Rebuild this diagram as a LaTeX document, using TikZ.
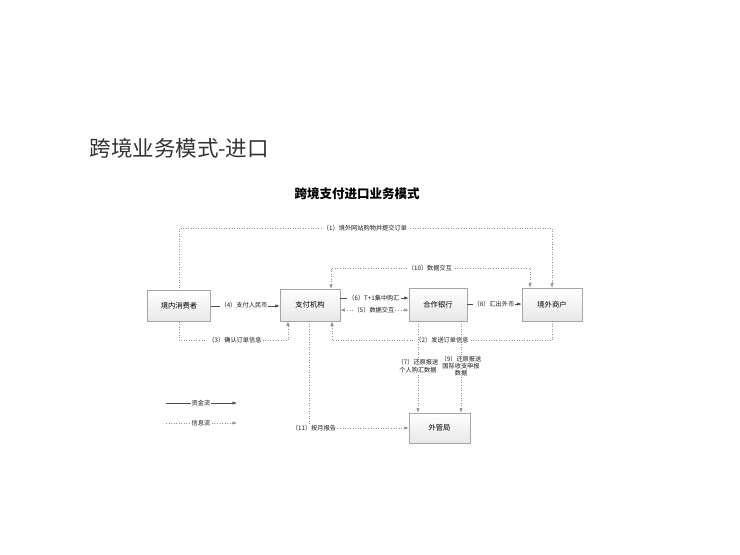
\documentclass[tikz,border=0pt]{standalone}
\usepackage{fontspec}
\setmainfont{Noto Sans CJK SC}
\usetikzlibrary{arrows.meta,shadows}
\begin{document}
\begin{tikzpicture}[x=1pt,y=-1pt,
  box/.style={draw=gray!70, line width=0.5pt, top color=white, bottom color=gray!18,
    minimum width=60pt, minimum height=32pt, inner sep=0pt, font=\fontsize{7.3}{8}\selectfont,
    drop shadow={shadow xshift=0.8pt, shadow yshift=-0.8pt, opacity=0.25}},
  money/.style={draw=black!70, line width=0.55pt},
  info/.style={draw=gray!85, line width=0.55pt, dotted},
  tip/.style={-{Latex[length=4.5pt,width=3.4pt]}},
  dtip/.style={{Latex[length=4.5pt,width=3.4pt]}-{Latex[length=4.5pt,width=3.4pt]}},
  lbl/.style={fill=white, inner sep=1pt, font=\fontsize{6.2}{7}\selectfont, text=black!90},
  mlbl/.style={inner sep=1pt, font=\fontsize{6.2}{7.4}\selectfont, text=black!90, align=center}
]
\useasboundingbox[fill=white] (0,0) rectangle (740,555);

\node[font=\fontsize{21.5}{24}\selectfont, text=black!80, anchor=west] (title) at (86,148) {跨境业务模式-进口};
\node[font=\fontsize{12.5}{14}\selectfont\bfseries] (sub) at (357,194) {跨境支付进口业务模式};

\node[box, minimum width=63pt, minimum height=31pt] (cons) at (179,306) {境内消费者};
\node[box] (pay) at (310,305) {支付机构};
\node[box, minimum width=58pt, minimum height=33pt] (bank) at (438,304.5) {合作银行};
\node[box, minimum height=33pt] (merch) at (552,304.5) {境外商户};
\node[box, minimum width=61pt, minimum height=30pt] (safe) at (439.5,428) {外管局};

% coordinates for routing
\coordinate (top1) at (0,228);
\coordinate (top10) at (0,268);
\coordinate (bot) at (0,340);
\coordinate (b11) at (0,428);

% (1)
\draw[info,tip] (cons.north) -- (cons.north |- top1) -- (merch.north |- top1) -- (merch.north);
\node[lbl] (l1) at (365,228) {（1）境外网站购物并提交订单};

% (10)
\draw[info,dtip] ([xshift=21pt]pay.north) -- ([xshift=21pt]pay.north |- top10) -- ([xshift=-22pt]merch.north |- top10) -- ([xshift=-22pt]merch.north);
\node[lbl] (l10) at (430,268) {（10）数据交互};

% (4)
\draw[money,tip] (cons.east) -- (pay.west |- cons.east);
\node[lbl] (l4) at (244,305) {（4）支付人民币};

% (3)
\draw[info,tip] (cons.south) -- (cons.south |- bot) -- ([xshift=-22pt]pay.south |- bot) -- ([xshift=-22pt]pay.south);
\node[lbl] (l3) at (235,340) {（3）确认订单信息};

% (2)
\draw[info,tip] (merch.south) -- (merch.south |- bot) -- ([xshift=22pt]pay.south |- bot) -- ([xshift=22pt]pay.south);
\node[lbl] (l2) at (442,340) {（2）发送订单信息};

% (6) and (5)
\coordinate (y6) at (0,298);
\coordinate (y5) at (0,310);
\draw[money,tip] (pay.east |- y6) -- (bank.west |- y6);
\node[lbl] (l6) at (374,298) {（6）T+1集中购汇};
\draw[info,dtip] (pay.east |- y5) -- (bank.west |- y5);
\node[lbl] (l5) at (374,310) {（5）数据交互};

% (8)
\draw[money,tip] (bank.east |- 0,304) -- (merch.west |- 0,304);
\node[lbl] (l8) at (494,304) {（8）汇出外币};

% (7) and (9)
\draw[info,tip] ([xshift=-20pt]bank.south) -- ([xshift=-20pt]bank.south |- safe.north);
\draw[info,tip] ([xshift=23pt]bank.south) -- ([xshift=23pt]bank.south |- safe.north);
\node[mlbl, fill=white] (l7) at (418,366) {（7）还原报送\\个人购汇数据};
\node[mlbl, fill=white] (l9) at (461,366) {（9）还原报送\\国际收支申报\\数据};

% (11)
\draw[info,tip] ([xshift=-1pt]pay.south) -- ([xshift=-1pt]pay.south |- b11) -- (safe.west);
\node[lbl] (l11) at (314,428) {（11）按月报告};

% legend
\coordinate (lg1a) at (166,403);
\coordinate (lg1b) at (237,403);
\coordinate (lg2a) at (166,423);
\coordinate (lg2b) at (237,423);
\draw[money,tip] (lg1a) -- (lg1b);
\node[lbl] (lg1) at (201,403) {资金流};
\draw[info,tip] (lg2a) -- (lg2b);
\node[lbl] (lg2) at (201,423) {信息流};
\end{tikzpicture}
\end{document}
